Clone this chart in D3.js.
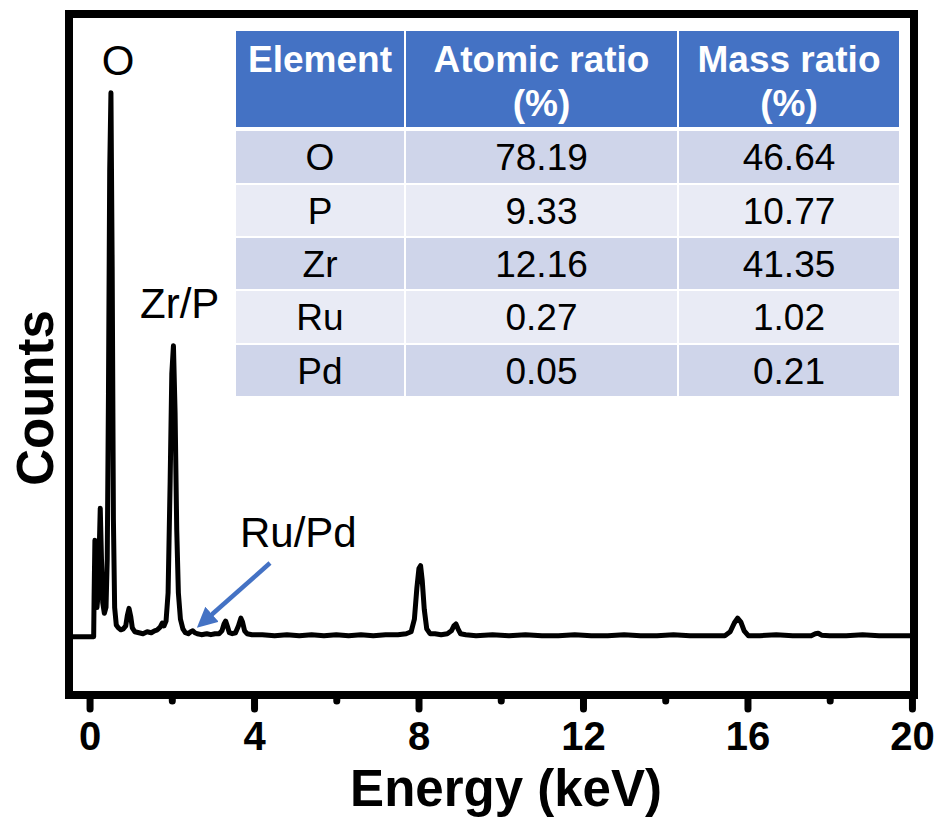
<!DOCTYPE html>
<html>
<head>
<meta charset="utf-8">
<script src="https://cdn.jsdelivr.net/npm/d3@7"></script>
<style>
  html, body { margin: 0; padding: 0; background: #fff; }
  svg { display: block; font-family: "Liberation Sans", Arial, Helvetica, sans-serif; }
</style>
</head>
<body>
<svg id="chart" width="942" height="822"></svg>
<script>
// ---------- data ----------
const energy = [-0.5, 0.10, 0.11, 0.13, 0.15, 0.18, 0.20, 0.23, 0.26, 0.29, 0.32, 0.36, 0.40, 0.43, 0.46, 0.49, 0.52, 0.55, 0.58, 0.61, 0.65, 0.70, 0.76, 0.82, 0.88, 0.92, 0.96, 1.00, 1.04, 1.10, 1.20, 1.30, 1.40, 1.50, 1.58, 1.65, 1.72, 1.77, 1.81, 1.86, 1.91, 1.96, 2.00, 2.04, 2.08, 2.12, 2.16, 2.21, 2.27, 2.33, 2.40, 2.46, 2.51, 2.56, 2.62, 2.72, 2.85, 2.95, 3.05, 3.15, 3.22, 3.27, 3.31, 3.35, 3.40, 3.47, 3.55, 3.62, 3.68, 3.72, 3.77, 3.83, 3.95, 4.2, 4.5, 4.8, 5.1, 5.4, 5.7, 6.0, 6.3, 6.6, 6.9, 7.2, 7.5, 7.7, 7.82, 7.90, 7.96, 8.01, 8.05, 8.09, 8.14, 8.20, 8.28, 8.40, 8.55, 8.70, 8.80, 8.86, 8.91, 8.96, 9.02, 9.15, 9.4, 9.8, 10.2, 10.6, 11.0, 11.4, 11.8, 12.2, 12.6, 13.0, 13.4, 13.8, 14.2, 14.6, 15.0, 15.3, 15.45, 15.58, 15.68, 15.76, 15.84, 15.92, 16.02, 16.3, 16.7, 17.1, 17.4, 17.55, 17.65, 17.72, 17.80, 18.0, 18.4, 18.8, 19.2, 19.6, 20.05];
const counts = [0, 0, 40, 99, 55, 30, 40, 80, 132, 80, 35, 24, 30, 80, 250, 480, 559, 380, 120, 30, 12, 9, 7, 8, 11, 22, 29, 21, 9, 5, 4, 3, 5, 4, 6, 7, 10, 14, 11, 16, 45, 160, 270, 299, 230, 110, 45, 18, 8, 4, 3, 5, 6, 4, 3, 2, 3, 2, 3, 3, 6, 13, 16, 11, 4, 3, 4, 11, 19, 15, 6, 3, 2, 2, 1, 2, 1, 2, 1, 2, 1, 2, 1, 2, 2, 3, 5, 18, 50, 70, 73, 58, 28, 8, 3, 3, 2, 3, 6, 11, 13, 8, 3, 2, 1, 2, 1, 2, 1, 1, 2, 1, 1, 2, 1, 1, 2, 1, 1, 1, 1, 5, 14, 19, 15, 6, 1, 1, 2, 1, 1, 1, 3, 3.5, 1.5, 1, 1, 2, 1, 1, 1];

const majorTicks = [0, 4, 8, 12, 16, 20];
const minorTicks = [2, 6, 10, 14, 18];

const tableHeader = [["Element"], ["Atomic ratio", "(%)"], ["Mass ratio", "(%)"]];
const elements = ["O", "P", "Zr", "Ru", "Pd"];
const atomicRatio = ["78.19", "9.33", "12.16", "0.27", "0.05"];
const massRatio = ["46.64", "10.77", "41.35", "1.02", "0.21"];

const peakLabels = ["O", "Zr/P", "Ru/Pd"];

// ---------- layout ----------
const svg = d3.select("#chart");
const pLeft = 69, pRight = 914, pTop = 14, pBottom = 695;

const x = d3.scaleLinear().domain([-0.5, 20.05]).range([pLeft, pRight]);
const y = d3.scaleLinear().domain([-60, 640]).range([pBottom, pTop]);

const fontStack = '"Liberation Sans", Arial, Helvetica, sans-serif';

// spectrum
const pts = energy.map((e, i) => [e, counts[i]]);
const line = d3.line().x(d => x(d[0])).y(d => y(d[1]));
svg.append("path")
  .datum(pts)
  .attr("d", line)
  .attr("fill", "none")
  .attr("stroke", "#000")
  .attr("stroke-width", 5)
  .attr("stroke-linejoin", "round");

// frame
svg.append("rect")
  .attr("x", pLeft).attr("y", pTop)
  .attr("width", pRight - pLeft).attr("height", pBottom - pTop)
  .attr("fill", "none").attr("stroke", "#000").attr("stroke-width", 8);

// axes
const gMinor = svg.append("g").attr("transform", `translate(0,${pBottom})`)
  .call(d3.axisBottom(x).tickValues(minorTicks).tickSize(6).tickFormat(""));
gMinor.select(".domain").remove();
gMinor.selectAll(".tick line").attr("stroke", "#000").attr("stroke-width", 7).attr("stroke-linecap", "round");

const gMajor = svg.append("g").attr("transform", `translate(0,${pBottom})`)
  .call(d3.axisBottom(x).tickValues(majorTicks).tickSize(14).tickFormat(d3.format("d")));
gMajor.select(".domain").remove();
gMajor.selectAll(".tick line").attr("stroke", "#000").attr("stroke-width", 7).attr("stroke-linecap", "round");
gMajor.selectAll(".tick text")
  .attr("y", 55).attr("dy", null)
  .attr("fill", "#000")
  .style("font-family", fontStack)
  .style("font-size", "40px").style("font-weight", "bold");

// axis titles
svg.append("text")
  .attr("x", 506).attr("y", 806)
  .attr("text-anchor", "middle")
  .style("font-family", fontStack).style("font-size", "51px").style("font-weight", "bold")
  .text("Energy (keV)");

svg.append("text")
  .attr("transform", "translate(53,398) rotate(-90)")
  .attr("text-anchor", "middle")
  .style("font-family", fontStack).style("font-size", "51px").style("font-weight", "bold")
  .text("Counts");

// peak labels
const labelPos = [[118, 75, "middle"], [140, 318, "start"], [240, 547, "start"]];
peakLabels.forEach((t, i) => {
  svg.append("text")
    .attr("x", labelPos[i][0]).attr("y", labelPos[i][1])
    .attr("text-anchor", labelPos[i][2])
    .style("font-family", fontStack).style("font-size", "42px")
    .text(t);
});

// arrow
const blue = "#4472C4";
svg.append("defs").append("marker")
  .attr("id", "arrowhead")
  .attr("viewBox", "0 0 10 10")
  .attr("refX", 2).attr("refY", 5)
  .attr("markerWidth", 4.5).attr("markerHeight", 4.5)
  .attr("orient", "auto")
  .append("path").attr("d", "M0,0 L10,5 L0,10 z").attr("fill", blue);
svg.append("line")
  .attr("x1", 270).attr("y1", 563).attr("x2", 209).attr("y2", 617)
  .attr("stroke", blue).attr("stroke-width", 4.5)
  .attr("marker-end", "url(#arrowhead)");

// table
const colEdges = [235, 405, 678, 900];
const headTop = 30, headBottom = 128;
const rowEdges = [130, 184, 237, 290, 344, 397];
const tbl = svg.append("g");

tableHeader.forEach((lines, c) => {
  tbl.append("rect")
    .attr("x", colEdges[c]).attr("y", headTop)
    .attr("width", colEdges[c + 1] - colEdges[c]).attr("height", headBottom - headTop)
    .attr("fill", blue).attr("stroke", "#fff").attr("stroke-width", 2);
  lines.forEach((t, k) => {
    tbl.append("text")
      .attr("x", (colEdges[c] + colEdges[c + 1]) / 2)
      .attr("y", 72 + k * 44)
      .attr("text-anchor", "middle")
      .attr("fill", "#fff")
      .style("font-family", fontStack).style("font-size", "37px").style("font-weight", "bold")
      .text(t);
  });
});

const rowsData = elements.map((e, i) => [e, atomicRatio[i], massRatio[i]]);
rowsData.forEach((row, r) => {
  const y0 = rowEdges[r], y1 = rowEdges[r + 1];
  row.forEach((val, c) => {
    tbl.append("rect")
      .attr("x", colEdges[c]).attr("y", y0)
      .attr("width", colEdges[c + 1] - colEdges[c]).attr("height", y1 - y0)
      .attr("fill", r % 2 === 0 ? "#CFD5EA" : "#E9EBF5")
      .attr("stroke", "#fff").attr("stroke-width", 2);
    tbl.append("text")
      .attr("x", (colEdges[c] + colEdges[c + 1]) / 2)
      .attr("y", (y0 + y1) / 2 + 13)
      .attr("text-anchor", "middle")
      .attr("fill", "#000")
      .style("font-family", fontStack).style("font-size", "37px")
      .text(val);
  });
});
</script>
</body>
</html>
